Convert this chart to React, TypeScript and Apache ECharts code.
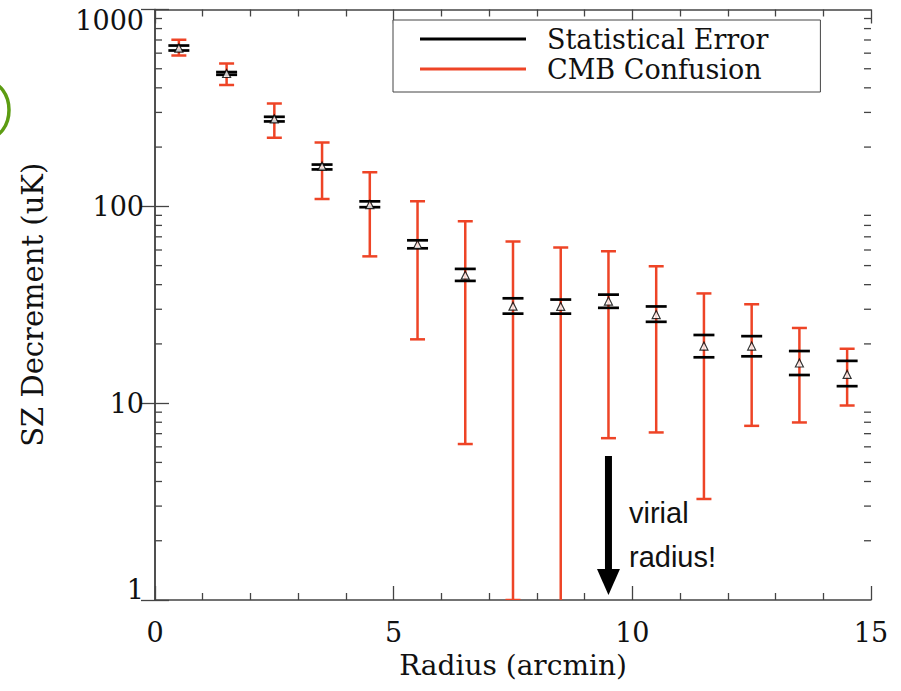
import React, { useEffect, useRef } from "react";
import * as echarts from "echarts";

const radius = [0.5, 1.5, 2.5, 3.5, 4.5, 5.5, 6.5, 7.5, 8.5, 9.5, 10.5, 11.5, 12.5, 13.5, 14.5];
const szDecrement = [637, 473, 278, 160, 102, 64, 44.7, 31.1, 31.0, 33.0, 28.2, 19.5, 19.5, 16.0, 14.0];
const statLow = [619, 466, 270, 154, 99, 61.2, 41.8, 28.5, 28.5, 30.5, 25.9, 17.1, 17.3, 13.9, 12.2];
const statHigh = [656, 481, 285, 163, 106, 67.2, 48.1, 34.1, 33.6, 35.6, 31.0, 22.2, 21.9, 18.4, 16.4];
const cmbLow = [584, 413, 223, 109, 55.7, 21.1, 6.2, 1.0, 0.6, 6.64, 7.1, 3.26, 7.67, 7.98, 9.73];
const cmbHigh = [702, 532, 333, 211, 149, 106, 84, 66.2, 61.7, 59.1, 49.6, 36.1, 31.8, 24.1, 18.9];
const yMinorTicks = [2, 3, 4, 5, 6, 7, 8, 9, 20, 30, 40, 50, 60, 70, 80, 90, 200, 300, 400, 500, 600, 700, 800, 900];
const virialRadius = 9.5;

const RED = "#ee4426";
const AXIS = "#444";
const SERIF = "DejaVu Serif";

export default function App() {
  const ref = useRef<HTMLDivElement>(null);
  useEffect(() => {
    if (!ref.current) return;
    const chart = echarts.init(ref.current, null, { renderer: "svg" });
    const axisCommon = {
      axisLine: { show: true, lineStyle: { color: AXIS, width: 1.5 } },
      splitLine: { show: false },
    };
    const legendText = { fontFamily: SERIF, fontSize: 27, color: "#111", lineHeight: 30, padding: [0, 0, 0, 16] };
    const option: any = {
      animation: false,
      backgroundColor: "#fff",
      textStyle: { fontFamily: SERIF },
      grid: { left: 155, right: 30, top: 9.5, bottom: 91, containLabel: false, outerBoundsMode: "none" },
      legend: {
        orient: "vertical",
        left: 393,
        top: 20,
        padding: [4, 52, 8, 27],
        itemGap: 0,
        itemWidth: 106,
        itemHeight: 3,
        borderColor: "#444",
        borderWidth: 1,
        backgroundColor: "#fff",
        selectedMode: false,
        textStyle: legendText,
        data: [
          { name: "Statistical Error", icon: "rect", itemStyle: { color: "#000" }, textStyle: legendText },
          { name: "CMB Confusion", icon: "rect", itemStyle: { color: RED }, textStyle: legendText },
        ],
      },
      xAxis: [
        {
          ...axisCommon,
          type: "value",
          min: 0,
          max: 15,
          interval: 5,
          position: "bottom",
          axisTick: { show: true, inside: true, length: 14, lineStyle: { color: AXIS, width: 1.3 } },
          minorTick: { show: true, splitNumber: 5, length: 7, lineStyle: { color: AXIS, width: 1.3 } },
          axisLabel: { margin: 19, fontFamily: SERIF, fontSize: 27, color: "#111" },
          name: "Radius (arcmin)",
          nameLocation: "middle",
          nameGap: 51,
          nameTextStyle: { fontFamily: SERIF, fontSize: 28, color: "#111" },
        },
        {
          ...axisCommon,
          type: "value",
          min: 0,
          max: 15,
          interval: 5,
          position: "top",
          axisTick: { show: true, inside: true, length: 14, lineStyle: { color: AXIS, width: 1.3 } },
          minorTick: { show: true, splitNumber: 5, length: 7, lineStyle: { color: AXIS, width: 1.3 } },
          axisLabel: { show: false },
        },
      ],
      yAxis: [
        {
          ...axisCommon,
          type: "log",
          logBase: 10,
          min: 1,
          max: 1000,
          position: "left",
          axisTick: { show: true, inside: true, length: 14, lineStyle: { color: AXIS, width: 1.3 } },
          axisLabel: {
            margin: 11,
            fontFamily: SERIF,
            fontSize: 27,
            color: "#111",
            lineHeight: 22,
            formatter: (v: number) => (v >= 1000 ? "\n" + v : v <= 1 ? v + "\n" : String(v)),
          },
          name: "SZ Decrement (uK)",
          nameLocation: "middle",
          nameGap: 108,
          nameRotate: 90,
          nameTextStyle: { fontFamily: SERIF, fontSize: 29, color: "#111" },
        },
        {
          ...axisCommon,
          type: "log",
          logBase: 10,
          min: 1,
          max: 1000,
          position: "right",
          axisTick: { show: true, inside: true, length: 14, lineStyle: { color: AXIS, width: 1.3 } },
          axisLabel: { show: false },
        },
      ],
      series: [
        {
          type: "custom",
          name: "minorTicks",
          xAxisIndex: 0,
          yAxisIndex: 0,
          silent: true,
          clip: false,
          z: 1,
          data: yMinorTicks.map((v) => [0, v]),
          renderItem: (params: any, api: any) => {
            const v = api.value(1);
            const pl = api.coord([0, v]);
            const pr = api.coord([15, v]);
            const st = { stroke: AXIS, lineWidth: 1.3 };
            return {
              type: "group",
              children: [
                { type: "line", shape: { x1: pl[0], y1: pl[1], x2: pl[0] + 7, y2: pl[1] }, style: st },
                { type: "line", shape: { x1: pr[0], y1: pr[1], x2: pr[0] - 7, y2: pr[1] }, style: st },
              ],
            };
          },
        },
        {
          type: "custom",
          name: "CMB Confusion",
          xAxisIndex: 0,
          yAxisIndex: 0,
          clip: true,
          z: 2,
          itemStyle: { color: RED },
          data: radius.map((r, i) => [r, cmbLow[i], cmbHigh[i]]),
          renderItem: (params: any, api: any) => {
            const x = api.value(0);
            const pHi = api.coord([x, api.value(2)]);
            const pLo = api.coord([x, api.value(1)]);
            const hw = 7.5;
            const st = { stroke: RED, lineWidth: 2.5 };
            return {
              type: "group",
              children: [
                { type: "line", shape: { x1: pHi[0], y1: pHi[1], x2: pLo[0], y2: pLo[1] }, style: st },
                { type: "line", shape: { x1: pHi[0] - hw, y1: pHi[1], x2: pHi[0] + hw, y2: pHi[1] }, style: st },
                { type: "line", shape: { x1: pLo[0] - hw, y1: pLo[1], x2: pLo[0] + hw, y2: pLo[1] }, style: st },
              ],
            };
          },
        },
        {
          type: "custom",
          name: "Statistical Error",
          xAxisIndex: 0,
          yAxisIndex: 0,
          z: 3,
          itemStyle: { color: "#000" },
          data: radius.map((r, i) => [r, statLow[i], statHigh[i]]),
          renderItem: (params: any, api: any) => {
            const x = api.value(0);
            const pHi = api.coord([x, api.value(2)]);
            const pLo = api.coord([x, api.value(1)]);
            const hw = 10.5;
            const st = { stroke: "#000", lineWidth: 2.7 };
            return {
              type: "group",
              children: [
                { type: "line", shape: { x1: pHi[0] - hw, y1: pHi[1], x2: pHi[0] + hw, y2: pHi[1] }, style: st },
                { type: "line", shape: { x1: pLo[0] - hw, y1: pLo[1], x2: pLo[0] + hw, y2: pLo[1] }, style: st },
              ],
            };
          },
        },
        {
          type: "scatter",
          name: "SZ",
          xAxisIndex: 0,
          yAxisIndex: 0,
          z: 4,
          symbol: "triangle",
          symbolSize: 8,
          itemStyle: { color: "#fff", borderColor: "#000", borderWidth: 1.2 },
          data: radius.map((r, i) => [r, szDecrement[i]]),
        },
      ],
    };
    chart.setOption(option);

    const ax = chart.convertToPixel({ xAxisIndex: 0 }, virialRadius) as number;
    chart.setOption({
      graphic: [
        {
          type: "ellipse",
          shape: { cx: -12, cy: 110, rx: 21, ry: 28 },
          style: { fill: "none", stroke: "#5c9c12", lineWidth: 3.5 },
          silent: true,
        },
        {
          type: "rect",
          shape: { x: ax - 3.5, y: 456, width: 7, height: 118 },
          style: { fill: "#000" },
          silent: true,
        },
        {
          type: "polygon",
          shape: { points: [[ax - 11.5, 569], [ax + 11.5, 569], [ax, 595]] },
          style: { fill: "#000" },
          silent: true,
        },
        {
          type: "text",
          x: 629,
          y: 491,
          style: {
            text: "virial\nradius!",
            font: "29px 'Liberation Sans', Arial, sans-serif",
            lineHeight: 44,
            fill: "#111",
            verticalAlign: "top",
            align: "left",
          },
          silent: true,
        },
      ],
    });
    return () => chart.dispose();
  }, []);
  return (
    <div
      ref={ref}
      style={{ position: "fixed", left: 0, top: 0, width: 901, height: 691, background: "#fff" }}
    />
  );
}
